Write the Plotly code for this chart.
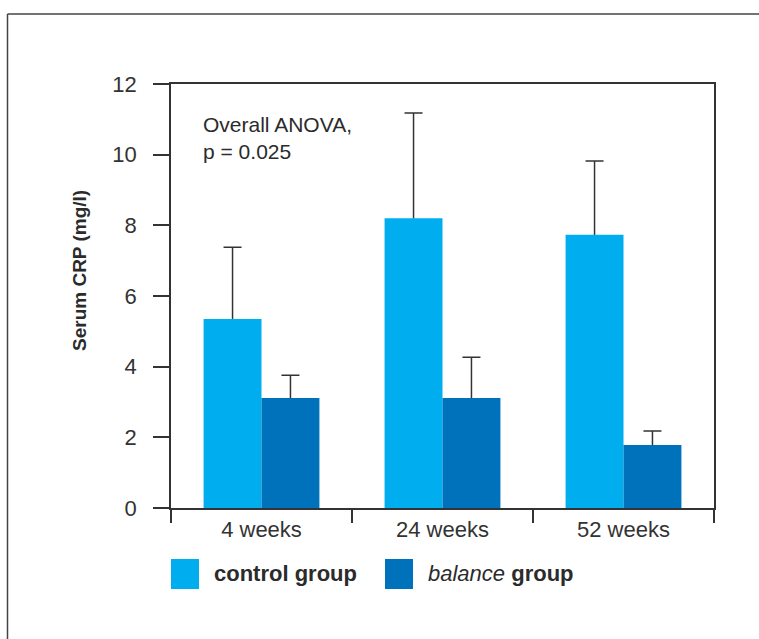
import plotly.graph_objects as go

categories = ["4 weeks", "24 weeks", "52 weeks"]
control_values = [5.35, 8.2, 7.73]
control_err = [2.03, 2.98, 2.09]
balance_values = [3.11, 3.11, 1.78]
balance_err = [0.65, 1.16, 0.4]
y_ticks = [0, 2, 4, 6, 8, 10, 12]
series_names = ["control group", "balance group"]

C_CONTROL = "#00AEEF"
C_BALANCE = "#0072BC"
TXT = "#2b2b2b"
ERR = "#333333"
FONT = "Liberation Sans, Arial, sans-serif"

W, H = 759, 639
L, R, T, B = 171, 714, 84, 508


def px_x(p):
    return (p - L) / (R - L)


def px_y(p):
    return (B - p) / (B - T)


fig = go.Figure()
for name, vals, errs, col, grp in [
    (series_names[0], control_values, control_err, C_CONTROL, "c"),
    (series_names[1], balance_values, balance_err, C_BALANCE, "b"),
]:
    # main bars with the vertical whisker (no caps)
    fig.add_trace(go.Bar(
        x=categories, y=vals, name=name, offsetgroup=grp,
        marker=dict(color=col, line=dict(width=0)),
        error_y=dict(type="data", array=errs, arrayminus=[0] * len(errs), symmetric=False,
                     color=ERR, thickness=1.5, width=0),
        showlegend=False, hoverinfo="x+y",
    ))
    # transparent companion bars carrying only the cap at the whisker top
    fig.add_trace(go.Bar(
        x=categories, y=[v + e for v, e in zip(vals, errs)], name=name + " cap", offsetgroup=grp,
        marker=dict(color="rgba(0,0,0,0)", line=dict(width=0)),
        error_y=dict(type="data", array=[0] * len(errs), symmetric=True,
                     color=ERR, thickness=1.5, width=9),
        showlegend=False, hoverinfo="skip",
    ))

shapes = [
    # outer frame (top and left)
    dict(type="line", xref="paper", yref="paper", x0=px_x(7.5), x1=px_x(760), y0=px_y(14), y1=px_y(14),
         line=dict(color="#444444", width=1.5)),
    dict(type="line", xref="paper", yref="paper", x0=px_x(7.5), x1=px_x(7.5), y0=px_y(14), y1=px_y(640),
         line=dict(color="#444444", width=1.5)),
    # x-axis extension to the left of y-axis
    dict(type="line", xref="paper", yref="paper", x0=px_x(155), x1=0, y0=0, y1=0,
         line=dict(color=ERR, width=1.5)),
    # legend swatches
    dict(type="rect", xref="paper", yref="paper", x0=px_x(171), x1=px_x(199), y0=px_y(559), y1=px_y(589),
         fillcolor=C_CONTROL, line=dict(width=0)),
    dict(type="rect", xref="paper", yref="paper", x0=px_x(385), x1=px_x(413), y0=px_y(559), y1=px_y(589),
         fillcolor=C_BALANCE, line=dict(width=0)),
]

annotations = [
    dict(text="<b>Serum CRP (mg/l)</b>", xref="paper", yref="paper", x=px_x(79), y=px_y(271),
         xanchor="center", yanchor="middle", textangle=-90, showarrow=False,
         font=dict(family=FONT, size=19, color=TXT)),
    dict(text="Overall ANOVA,<br>p = 0.025", xref="paper", yref="paper", x=px_x(201), y=px_y(111),
         xanchor="left", yanchor="top", align="left", showarrow=False,
         font=dict(family=FONT, size=21, color=TXT)),
    dict(text="<b>control group</b>", xref="paper", yref="paper", x=px_x(212), y=px_y(573),
         xanchor="left", yanchor="middle", showarrow=False,
         font=dict(family=FONT, size=22, color=TXT)),
    dict(text="<i>balance</i> <b>group</b>", xref="paper", yref="paper", x=px_x(426), y=px_y(573),
         xanchor="left", yanchor="middle", showarrow=False,
         font=dict(family=FONT, size=22, color=TXT)),
]

fig.update_layout(
    width=W, height=H,
    margin=dict(l=L, r=W - R, t=T, b=H - B),
    paper_bgcolor="white", plot_bgcolor="white",
    barmode="group", bargap=0.36, bargroupgap=0,
    font=dict(family=FONT, color=TXT),
    shapes=shapes, annotations=annotations,
    hovermode="closest",
    xaxis=dict(
        type="category", tickson="boundaries", range=[-0.5, 2.5],
        showline=True, mirror=True, linecolor=ERR, linewidth=1.5,
        ticks="outside", ticklen=13, tickwidth=1.5, tickcolor=ERR,
        tickfont=dict(family=FONT, size=22, color="#333333"), showgrid=False, zeroline=False,
        ticklabelstandoff=1,
    ),
    yaxis=dict(
        range=[0, 12], tickvals=y_ticks, ticktext=[str(v) for v in y_ticks],
        showline=True, mirror=True, linecolor=ERR, linewidth=1.5,
        ticks="outside", ticklen=16, tickwidth=1.5, tickcolor=ERR,
        tickfont=dict(family=FONT, size=22, color="#333333"), showgrid=False, zeroline=False,
        ticklabelstandoff=12,
    ),
)

fig.write_html("out.html", config={"displayModeBar": False},
               post_script="document.body.style.margin='0';document.body.style.overflow='hidden';")
